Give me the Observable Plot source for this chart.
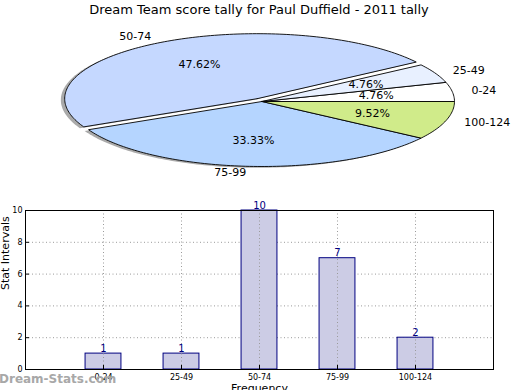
<!DOCTYPE html>
<html><head><meta charset="utf-8">
<script src="https://cdn.jsdelivr.net/npm/d3@7"></script>
<script src="https://cdn.jsdelivr.net/npm/@observablehq/plot@0.6"></script>
<style>
body{margin:0;background:#fff;font-family:"DejaVu Sans",sans-serif;}
#wrap{position:relative;width:520px;height:390px;overflow:hidden;background:#fff;}
#title{position:absolute;top:2px;left:0;width:518px;text-align:center;font-size:13px;color:#000;}
#pie{position:absolute;top:0;left:0;}
#bar{position:absolute;top:190px;left:0;}
#wm{position:absolute;left:-1px;top:372px;font-size:12px;color:#a8a8a8;font-weight:bold;}
svg{overflow:visible;}
</style></head>
<body><div id="wrap">
<div id="pie"></div>
<div id="bar"></div>
<div id="title">Dream Team score tally for Paul Duffield - 2011 tally</div>
<div id="wm">Dream-Stats.com</div>
</div>
<script>
const categories = ["0-24", "25-49", "50-74", "75-99", "100-124"];
const counts = [1, 1, 10, 7, 2];
const sliceColors = ["#ffffff", "#e8f0ff", "#c5d8ff", "#b5d5ff", "#d0eb8a"];
const explode = [0, 0, 0.05, 0, 0];
const yTicks = [0, 2, 4, 6, 8, 10];

const total = d3.sum(counts);
let acc = 0;
const slices = categories.map((c, i) => {
  const a0 = acc / total * 2 * Math.PI;
  acc += counts[i];
  const a1 = acc / total * 2 * Math.PI;
  const mid = (a0 + a1) / 2;
  const ox = explode[i] * Math.cos(mid), oy = explode[i] * Math.sin(mid);
  const pts = [{x: ox, y: oy}];
  const n = Math.max(4, Math.ceil((a1 - a0) / 0.02));
  for (let k = 0; k <= n; k++) {
    const a = a0 + (a1 - a0) * k / n;
    pts.push({x: ox + Math.cos(a), y: oy + Math.sin(a)});
  }
  pts.push({x: ox, y: oy});
  return {cat: c, color: sliceColors[i], pts, mid, ox, oy,
          pct: (counts[i] / total * 100).toFixed(2) + "%"};
});

const pieMarks = [];
for (const s of slices) {
  pieMarks.push(Plot.line(s.pts, {x: d => d.x - 0.02, y: d => d.y - 0.02, fill: "#555", fillOpacity: 0.5, stroke: "none"}));
}
for (const s of slices) {
  pieMarks.push(Plot.line(s.pts, {x: "x", y: "y", fill: s.color, stroke: "#000", strokeWidth: 0.9, strokeLinejoin: "miter"}));
}
const labelPos = slices.map(s => ({cat: s.cat, pct: s.pct,
  lx: s.ox + 1.1 * Math.cos(s.mid), ly: s.oy + 1.1 * Math.sin(s.mid),
  px: s.ox + 0.6 * Math.cos(s.mid), py: s.oy + 0.6 * Math.sin(s.mid)}));
pieMarks.push(Plot.text(labelPos.filter(d => d.lx > 0), {x: "lx", y: "ly", text: "cat", textAnchor: "start", fontSize: 11, fill: "#000"}));
pieMarks.push(Plot.text(labelPos.filter(d => d.lx <= 0), {x: "lx", y: "ly", text: "cat", textAnchor: "end", fontSize: 11, fill: "#000"}));
pieMarks.push(Plot.text(labelPos, {x: "px", y: "py", text: "pct", fontSize: 11, fill: "#000"}));

const pie = Plot.plot({
  width: 520, height: 190,
  marginLeft: 69, marginRight: 66, marginTop: 36, marginBottom: 24,
  style: {fontFamily: "DejaVu Sans, sans-serif", background: "transparent"},
  x: {domain: [-1, 1], axis: null},
  y: {domain: [-1, 1], axis: null},
  marks: pieMarks
});
document.getElementById("pie").append(pie);

const barData = categories.map((c, i) => ({cat: c, pos: i + 1, v: counts[i]}));
const pos = barData.map(d => d.pos);
const halfW = 0.23;
const grid = {stroke: "#9a9a9a", strokeOpacity: 1, strokeDasharray: "1,2.5", strokeWidth: 1};

const bar = Plot.plot({
  width: 520, height: 200,
  marginLeft: 25, marginRight: 27, marginTop: 20, marginBottom: 21,
  style: {fontFamily: "DejaVu Sans, sans-serif", background: "transparent"},
  x: {type: "linear", domain: [0, pos.length + 1]},
  y: {type: "linear", domain: [0, 10]},
  marks: [
    Plot.gridY(yTicks.slice(1, -1), grid),
    Plot.rectY(barData, {x1: d => d.pos - halfW, x2: d => d.pos + halfW, y1: () => 0, y2: "v", fill: "#ccccE5", stroke: "#000080", strokeWidth: 1}),
    Plot.gridX(pos, grid),
    Plot.text(barData, {x: "pos", y: "v", text: d => String(d.v), lineAnchor: "bottom", dy: -2, fontSize: 10, fill: "#000080"}),
    Plot.axisX(pos, {anchor: "bottom", tickSize: -4, tickPadding: 9, fontSize: 8, label: null, tickFormat: p => categories[p - 1]}),
    Plot.axisY(yTicks, {anchor: "left", tickSize: -4, tickPadding: 7, fontSize: 8, label: null}),
    Plot.frame({stroke: "#000", strokeWidth: 1}),
    Plot.text(["Stat Intervals"], {frameAnchor: "left", rotate: -90, dx: -20, fontSize: 11, fill: "#000"}),
    Plot.text(["Frequency"], {frameAnchor: "bottom", lineAnchor: "top", dy: 15, fontSize: 11, fill: "#000"})
  ]
});
document.getElementById("bar").append(bar);
</script>
</body></html>
